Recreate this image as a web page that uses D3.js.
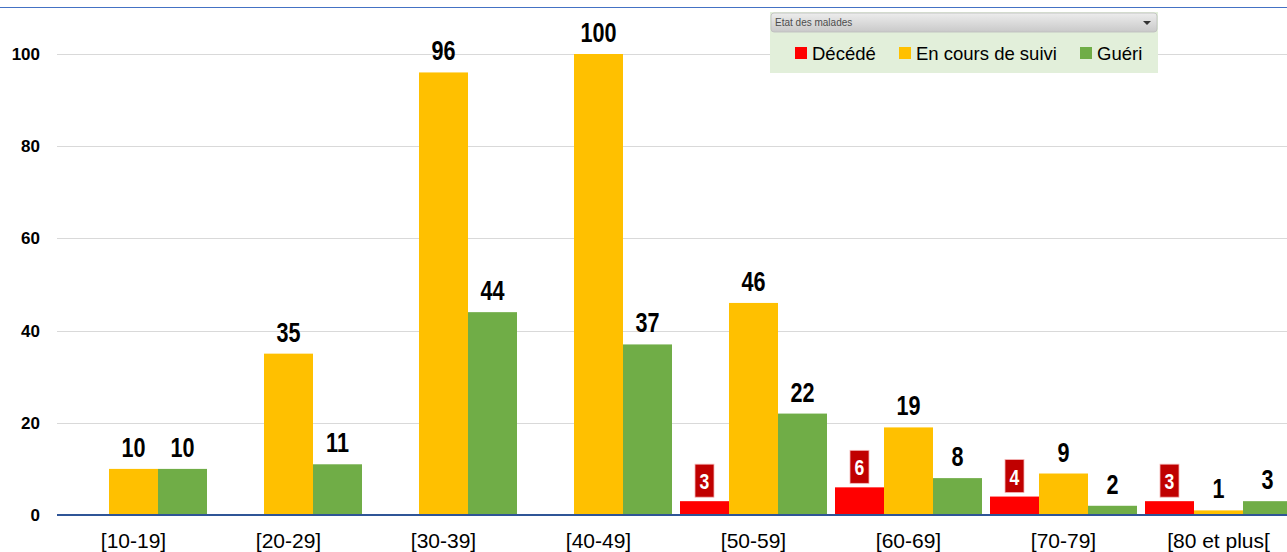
<!DOCTYPE html>
<html lang="fr">
<head>
<meta charset="UTF-8">
<title>Etat des malades par tranche d'âge</title>
<script src="https://d3js.org/d3.v7.min.js"></script>
<style>
  body { margin: 0; background: #fff; }
  svg { display: block; }
</style>
</head>
<body>
<svg id="chart" width="1287" height="552"></svg>
<script>
// chart data
const categories = ["[10-19]", "[20-29]", "[30-39]", "[40-49]", "[50-59]", "[60-69]", "[70-79]", "[80 et plus["];
const seriesNames = ["Décédé", "En cours de suivi", "Guéri"];
const seriesColors = ["#FF0000", "#FFC000", "#70AD47"];
const decede = [null, null, null, null, 3, 6, 4, 3];
const enCours = [10, 35, 96, 100, 46, 19, 9, 1];
const gueri = [10, 11, 44, 37, 22, 8, 2, 3];
const yTicks = [0, 20, 40, 60, 80, 100];

const svg = d3.select("#chart");
const W = 1287;
const NARROW = 0.8; // horizontal squeeze to mimic Arial Narrow

// scales - the last band runs past the right edge, like in the original screenshot
const x0 = d3.scaleBand().domain(categories).range([56, 1296]).paddingInner(0);
const x1 = d3.scaleBand().domain(seriesNames).range([4, x0.bandwidth() - 4]);
const y = d3.scaleLinear().domain([0, 100]).range([515, 54]);

// top border line
svg.append("line")
  .attr("x1", 0).attr("x2", W).attr("y1", 7.5).attr("y2", 7.5)
  .attr("stroke", "#4472C4").attr("stroke-width", 1.2);

// gridlines
svg.append("g").selectAll("line")
  .data(yTicks.filter(d => d > 0))
  .enter().append("line")
  .attr("x1", 57).attr("x2", W)
  .attr("y1", d => Math.round(y(d)) + 0.5)
  .attr("y2", d => Math.round(y(d)) + 0.5)
  .attr("stroke", "#D9D9D9").attr("stroke-width", 1);

// y axis labels
const yAxis = d3.axisLeft(y).tickValues(yTicks).tickSize(0).tickPadding(0);
const ya = svg.append("g").attr("transform", "translate(40,0)").call(yAxis);
ya.select(".domain").remove();
ya.selectAll("text")
  .attr("font-family", "Liberation Sans, Arial, sans-serif")
  .attr("font-size", 17).attr("font-weight", "bold").attr("fill", "#000");

// bars
const rows = categories.map((c, i) => ({
  cat: c,
  values: [decede[i], enCours[i], gueri[i]]
}));

const groups = svg.append("g").selectAll("g")
  .data(rows)
  .enter().append("g")
  .attr("transform", d => `translate(${x0(d.cat)},0)`);

const cells = groups.selectAll("g")
  .data(d => d.values.map((v, k) => ({ name: seriesNames[k], k: k, v: v })).filter(e => e.v !== null))
  .enter().append("g");

cells.append("rect")
  .attr("x", d => x1(d.name))
  .attr("width", x1.bandwidth())
  .attr("y", d => y(d.v))
  .attr("height", d => y(0) - y(d.v))
  .attr("fill", d => seriesColors[d.k]);

const midX = d => x1(d.name) + x1.bandwidth() / 2;

// value labels for yellow and green bars
cells.filter(d => d.k > 0).append("text")
  .attr("transform", d => `translate(${midX(d)},${y(d.v) - 12}) scale(${NARROW},1)`)
  .attr("text-anchor", "middle")
  .attr("font-family", "Liberation Sans, Arial, sans-serif")
  .attr("font-size", 27).attr("font-weight", "bold").attr("fill", "#000")
  .text(d => d.v);

// boxed labels for the red bars
const redLbl = cells.filter(d => d.k === 0).append("g");
redLbl.append("rect")
  .attr("x", d => midX(d) - 9.5).attr("width", 19)
  .attr("y", d => y(d.v) - 4 - 33).attr("height", 33)
  .attr("fill", "#C00000").attr("stroke", "#F4B6B6").attr("stroke-width", 0.8);
redLbl.append("text")
  .attr("transform", d => `translate(${midX(d)},${y(d.v) - 12}) scale(${NARROW},1)`)
  .attr("text-anchor", "middle")
  .attr("font-family", "Liberation Sans, Arial, sans-serif")
  .attr("font-size", 22).attr("font-weight", "bold").attr("fill", "#fff")
  .text(d => d.v);

// baseline
svg.append("line")
  .attr("x1", 57).attr("x2", W)
  .attr("y1", y(0)).attr("y2", y(0))
  .attr("stroke", "#2F5597").attr("stroke-width", 2);

// category labels
svg.append("g").selectAll("text")
  .data(categories)
  .enter().append("text")
  .attr("x", d => x0(d) + x0.bandwidth() / 2)
  .attr("y", 548)
  .attr("text-anchor", "middle")
  .attr("font-family", "Liberation Sans, Arial, sans-serif")
  .attr("font-size", 21).attr("fill", "#000")
  .text(d => d);

// legend (pivot-chart style filter box)
const lg = svg.append("g").attr("transform", "translate(770,12)");
lg.append("rect").attr("width", 388).attr("height", 61).attr("fill", "#E2EFDA");
const grad = svg.append("defs").append("linearGradient")
  .attr("id", "hdr").attr("x1", 0).attr("x2", 0).attr("y1", 0).attr("y2", 1);
grad.append("stop").attr("offset", "0%").attr("stop-color", "#EDEDED");
grad.append("stop").attr("offset", "100%").attr("stop-color", "#C9C9C9");
lg.append("rect")
  .attr("x", 1).attr("y", 1).attr("width", 386).attr("height", 19)
  .attr("rx", 3).attr("fill", "url(#hdr)").attr("stroke", "#BDBDBD").attr("stroke-width", 0.8);
lg.append("text")
  .attr("x", 5).attr("y", 14)
  .attr("font-family", "Liberation Sans, Arial, sans-serif")
  .attr("font-size", 10).attr("fill", "#4D4D4D")
  .text("Etat des malades");
lg.append("path").attr("d", "M373,9 L381,9 L377,13 Z").attr("fill", "#333");

const legendX = [25, 129, 310];
const items = lg.selectAll("g.item")
  .data(seriesNames)
  .enter().append("g").attr("class", "item")
  .attr("transform", (d, i) => `translate(${legendX[i]},0)`);
items.append("rect")
  .attr("y", 35).attr("width", 12).attr("height", 12)
  .attr("fill", (d, i) => seriesColors[i]);
items.append("text")
  .attr("x", 17).attr("y", 48)
  .attr("font-family", "Liberation Sans, Arial, sans-serif")
  .attr("font-size", 18.5).attr("fill", "#000")
  .text(d => d);
</script>
</body>
</html>
